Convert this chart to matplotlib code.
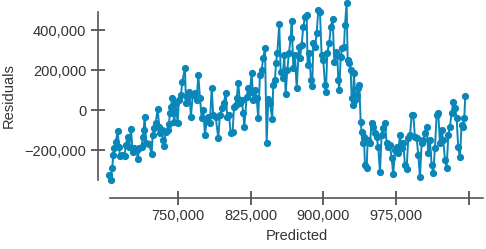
import matplotlib
matplotlib.use("Agg")
import matplotlib.pyplot as plt

# predicted values (thousands) and residuals (thousands)
predicted = [
    679.2, 680.9, 682.2, 683.3, 684.3, 685.8, 687.8, 689.2, 690.2, 692.6,
    695.0, 696.1, 698.1, 699.8, 701.5, 703.3, 704.9, 707.4, 708.4, 710.1,
    712.6, 713.6, 714.6, 715.7, 717.0, 720.1, 722.9, 723.9, 725.6, 727.0,
    729.1, 730.7, 731.5, 733.2, 734.9, 735.9, 737.3, 739.4, 740.7, 741.7,
    742.8, 744.1, 745.2, 746.2, 747.9, 749.7, 751.0, 753.1, 754.4, 757.2,
    758.3, 759.6, 761.7, 763.4, 765.2, 767.6, 769.3, 771.0, 772.7, 774.5,
    776.1, 777.9, 779.6, 781.3, 783.0, 784.8, 786.4, 788.9, 791.6, 793.3,
    795.7, 797.5, 799.2, 800.9, 802.6, 804.4, 806.4, 807.8, 809.5, 810.6,
    812.2, 814.0, 815.7, 817.4, 818.4, 820.9, 822.5, 824.3, 826.0, 827.7,
    829.4, 831.2, 832.8, 834.6, 836.3, 838.0, 839.8, 841.5, 843.2, 844.9,
    847.3, 848.3, 850.1, 851.1, 852.5, 854.5, 856.0, 858.0, 859.7, 861.1,
    862.8, 864.5, 866.3, 867.3, 869.0, 870.7, 872.5, 874.8, 875.9, 877.6,
    879.3, 881.0, 882.8, 883.8, 885.5, 887.2, 888.6, 889.6, 891.4, 893.1,
    894.8, 896.5, 898.2, 899.9, 901.7, 902.7, 904.0, 906.1, 907.6, 909.6,
    911.3, 913.0, 914.4, 915.4, 916.4, 917.9, 919.5, 921.3, 922.3, 924.0,
    925.1, 926.4, 928.2, 929.2, 930.3, 931.6, 932.9, 934.4, 935.7, 937.1,
    938.5, 939.5, 940.6, 941.9, 942.9, 944.7, 945.7, 948.1, 949.8, 951.5,
    953.2, 955.0, 956.6, 958.4, 960.1, 961.8, 963.6, 965.3, 966.9, 968.7,
    970.4, 972.1, 973.9, 975.6, 977.3, 979.0, 980.8, 982.4, 984.2, 985.9,
    987.6, 989.4, 991.1, 992.8, 994.5, 996.3, 997.9, 999.7, 1001.4, 1003.1,
    1004.8, 1006.6, 1008.2, 1010.0, 1011.7, 1013.4, 1015.1, 1016.9, 1018.5, 1020.3,
    1022.0, 1023.7, 1025.5, 1027.2, 1028.9, 1030.6, 1032.3, 1034.0, 1035.8, 1037.5,
    1039.1, 1040.9, 1042.6, 1044.3, 1045.4, 1046.4,
]
residuals = [
    -325, -350, -290, -225, -190, -160, -105, -185, -230, -225,
    -230, -175, -135, -185, -95, -210, -190, -200, -245, -190,
    -185, -135, -100, -35, -165, -170, -220, -125, -90, -65,
    5, -85, -115, -100, -150, -180, -110, -100, -70, -15,
    15, 60, -15, -60, 35, -65, 50, 75, 140, 210,
    35, 65, 90, -35, 75, 85, 50, 175, 60, -40,
    0, -125, -50, -35, -65, 110, -25, -35, -140, -25,
    10, 35, 85, -35, -25, -115, -110, 15, 25, 60,
    135, 35, 50, -15, -85, 65, 110, 90, 185, 50,
    100, 60, -40, 175, 200, 260, 310, -165, 55, 35,
    -45, 125, 150, 235, 285, 430, 190, 160, 275, 80,
    200, 285, 360, 445, 210, 275, 110, 315, 260, 325,
    415, 465, 475, 225, 285, 150, 120, 335, 315, 385,
    500, 490, 275, 250, 125, 90, 285, 335, 415, 455,
    240, 290, 275, 150, 100, 265, 310, 315, 425, 535,
    250, 235, 200, 60, 25, 185, 50, 75, 110, 125,
    -60, -110, -165, -135, -275, -290, -150, -165, -65, -85,
    -115, -135, -185, -310, -125, -90, -65, -165, -185, -175,
    -240, -320, -200, -185, -215, -125, -190, -165, -275, -295,
    -140, -125, -25, -25, -135, -140, -225, -335, -165, -150,
    -115, -85, -215, -150, -275, -315, -190, -25, -15, -165,
    -100, -150, -250, -290, -125, -85, -15, 40, 10, -40,
    -185, -235, -75, -85, -40, 70,
]
x_ticks = [750000, 825000, 900000, 975000, 1050000]
x_labels = ["750,000", "825,000", "900,000", "975,000", ""]
y_ticks = [-200000, 0, 200000, 400000]
y_labels = ["\u2212200,000", "0", "200,000", "400,000"]

plt.rcParams['font.family'] = ['Liberation Sans', 'DejaVu Sans']

W, H = 486, 249
fig = plt.figure(figsize=(W / 100, H / 100), dpi=100)
ax = fig.add_axes([110 / W, 1 - 180 / H, (483 - 110) / W, (180 - 12) / H])

xs = [p * 1000 for p in predicted]
ys = [r * 1000 for r in residuals]
ax.plot(xs, ys, color='#0a86b8', lw=1.4, marker='o', ms=4.2,
        mec='#0a86b8', mfc='#0a86b8', clip_on=False, zorder=3)

ax.set_xlim(679900, 1064700)
ax.set_ylim(-350000, 490000)

for s in ['top', 'right']:
    ax.spines[s].set_visible(False)
ax.spines['left'].set_position(('outward', 9))
ax.spines['bottom'].set_position(('outward', 13))
for s in ['left', 'bottom']:
    ax.spines[s].set_color('#555555')
    ax.spines[s].set_linewidth(1.2)

ax.set_xticks(x_ticks)
ax.set_xticklabels(x_labels)
ax.set_yticks(y_ticks)
ax.set_yticklabels(y_labels)
ax.tick_params(direction='inout', length=10, width=1.1, color='#333333',
               labelsize=10.5, labelcolor='#333333')
ax.tick_params(axis='y', pad=3)
ax.tick_params(axis='x', pad=3)

ax.set_xlabel("Predicted", fontsize=10.5, color='#333333', labelpad=4)
ax.set_ylabel("Residuals", fontsize=10.5, color='#333333', labelpad=6)

fig.savefig("out.png", dpi=100)
